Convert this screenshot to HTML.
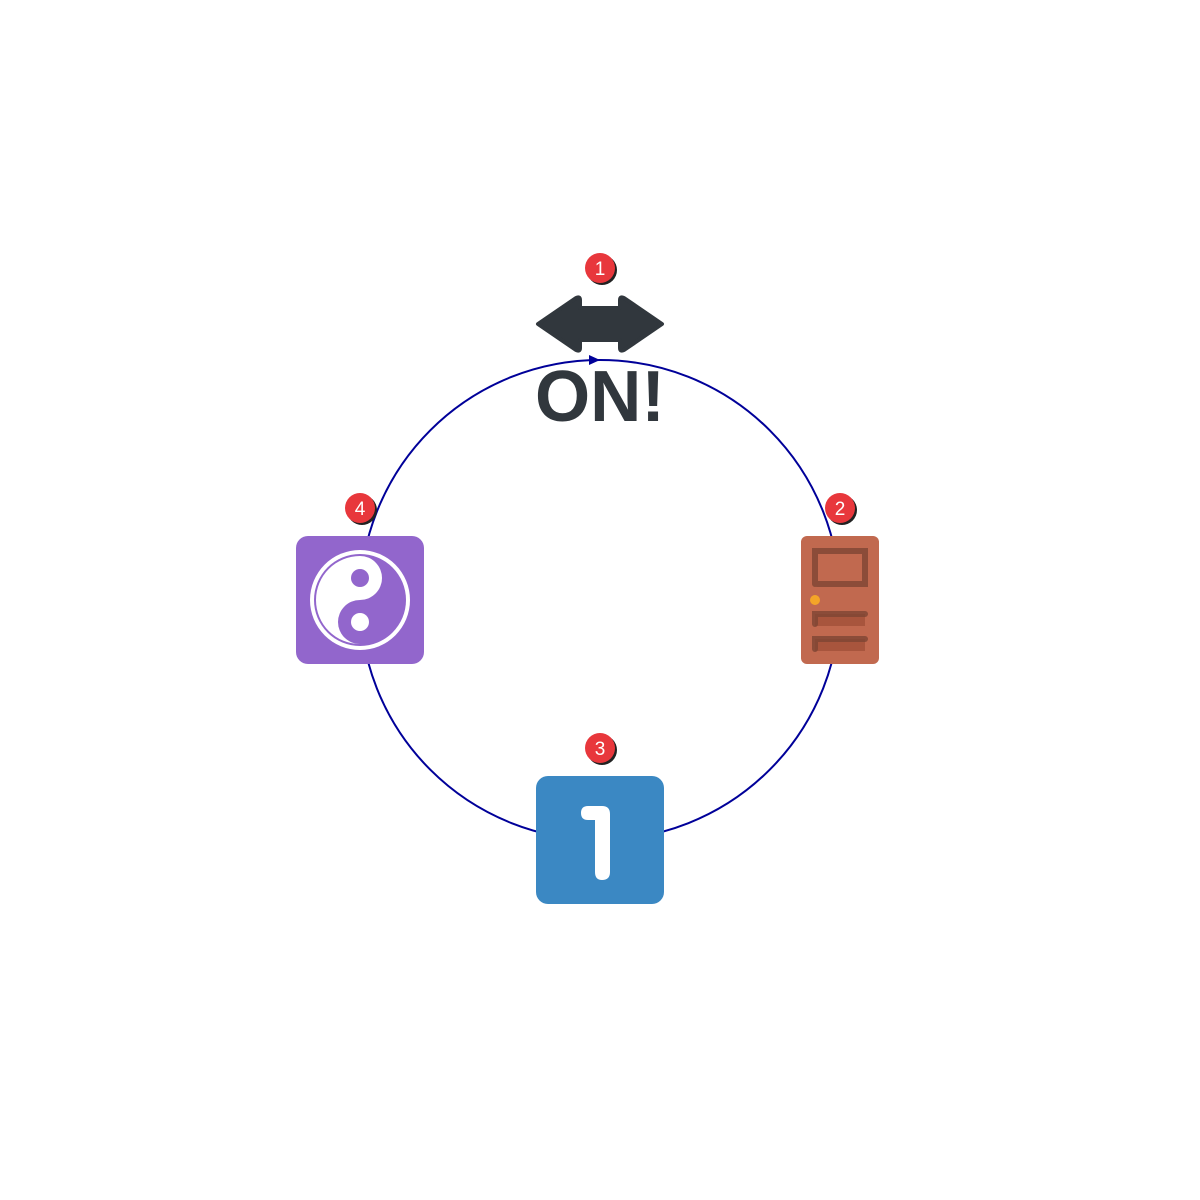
<!DOCTYPE html>
<html><head><meta charset="utf-8"><style>html,body{margin:0;padding:0;background:#fff}svg{display:block}</style></head>
<body>
<svg width="1200" height="1200" viewBox="0 0 1200 1200" xmlns="http://www.w3.org/2000/svg">
<circle cx="600" cy="600" r="240" fill="none" stroke="#000099" stroke-width="2"/>
<path d="M589 355 L600 360 L589 365 Z" fill="#000099"/>
<path d="M538 324 L576 298 Q580 296 580 300 L580 308 L620 308 L620 300 Q620 296 624 298 L662 324 L624 350 Q620 352 620 348 L620 340 L580 340 L580 348 Q580 352 576 350 Z" fill="#31373d" stroke="#31373d" stroke-width="4" stroke-linejoin="round"/>
<text x="535" y="421" font-family="Liberation Sans, sans-serif" font-weight="bold" font-size="72" fill="#31373d" textLength="130" lengthAdjust="spacingAndGlyphs">ON!</text>
<rect x="801" y="536" width="78" height="128" rx="6" fill="#c1694f"/>
<path d="M815 584 V551 H865 V584 H817" fill="none" stroke="#7d4533" stroke-width="6" stroke-linecap="round" opacity="0.8"/>
<rect x="815" y="614" width="50" height="12" fill="#a8553d"/>
<rect x="815" y="639" width="50" height="12" fill="#a8553d"/>
<path d="M815 624 V614 H865" fill="none" stroke="#7d4533" stroke-width="6" stroke-linecap="round" opacity="0.8"/>
<path d="M815 649 V639 H865" fill="none" stroke="#7d4533" stroke-width="6" stroke-linecap="round" opacity="0.8"/>
<circle cx="815" cy="600" r="5" fill="#f4a528"/>
<rect x="296" y="536" width="128" height="128" rx="12" fill="#9266cc"/>
<circle cx="360" cy="600" r="50" fill="#fff"/>
<circle cx="360" cy="600" r="46" fill="#9266cc"/>
<circle cx="360" cy="600" r="44" fill="none" stroke="#fff" stroke-width="0"/>
<path d="M360 556 A22 22 0 0 1 360 600 A22 22 0 0 0 360 644 A44 44 0 0 1 360 556 Z" fill="#fff"/>
<path d="M360 556 A44 44 0 0 1 360 556" fill="#fff"/>
<circle cx="360" cy="578" r="9" fill="#9266cc"/>
<circle cx="360" cy="622" r="9" fill="#fff"/>
<rect x="536" y="776" width="128" height="128" rx="12" fill="#3b88c3"/>
<path d="M588 806 H602 Q610 806 610 814 V872 Q610 880 602 880 Q595 880 595 872 V820 H588 Q581 820 581 813 Q581 806 588 806 Z" fill="#fff"/>
<g font-family="Liberation Sans, DejaVu Sans, sans-serif" font-size="19" fill="#fff" text-anchor="middle">
<circle cx="602" cy="270" r="15" fill="#222"/><circle cx="600" cy="268" r="15" fill="#e8373c"/><text x="600" y="275">1</text>
<circle cx="842" cy="510" r="15" fill="#222"/><circle cx="840" cy="508" r="15" fill="#e8373c"/><text x="840" y="515">2</text>
<circle cx="602" cy="750" r="15" fill="#222"/><circle cx="600" cy="748" r="15" fill="#e8373c"/><text x="600" y="755">3</text>
<circle cx="362" cy="510" r="15" fill="#222"/><circle cx="360" cy="508" r="15" fill="#e8373c"/><text x="360" y="515">4</text>
</g>
</svg>
</body></html>
